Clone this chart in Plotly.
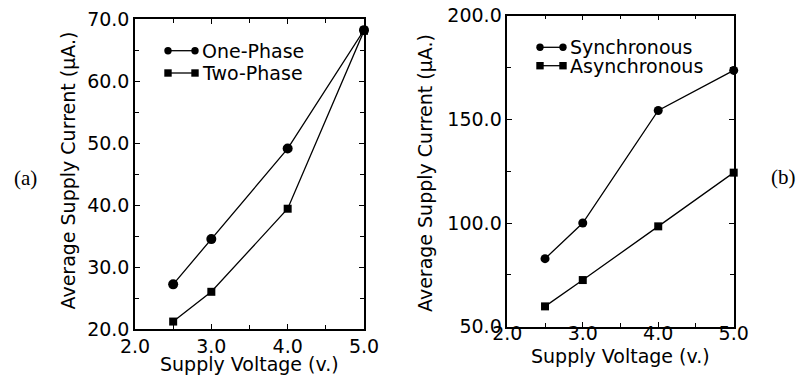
import plotly.graph_objects as go

# ---- data ----
voltage = [2.5, 3.0, 4.0, 5.0]
one_phase = [27.2, 34.5, 49.1, 68.2]
two_phase = [21.2, 26.0, 39.4, 68.1]
synchronous = [82.8, 100.0, 154.3, 173.6]
asynchronous = [59.8, 72.5, 98.4, 124.3]

x_ticks = [2.0, 3.0, 4.0, 5.0]
y_ticks_a = [20.0, 30.0, 40.0, 50.0, 60.0, 70.0]
y_ticks_b = [50.0, 100.0, 150.0, 200.0]

W, H = 799, 379
FONT = "DejaVu Sans"
FS = 19


def px(x):
    return x / W


def py(y):
    return 1 - y / H


fig = go.Figure()

series = [
    (voltage, one_phase, "circle", 10, "x", "y", "One-Phase"),
    (voltage, two_phase, "square", 8, "x", "y", "Two-Phase"),
    (voltage, synchronous, "circle", 9, "x2", "y2", "Synchronous"),
    (voltage, asynchronous, "square", 8, "x2", "y2", "Asynchronous"),
]
for xs, ys, sym, sz, xa, ya, name in series:
    fig.add_trace(go.Scatter(
        x=xs, y=ys, mode="lines+markers", name=name,
        line=dict(color="black", width=1.3),
        marker=dict(symbol=sym, size=sz, color="black"),
        xaxis=xa, yaxis=ya, cliponaxis=False, showlegend=False,
    ))

axis_common = dict(
    showline=True, linecolor="black", linewidth=1.5, mirror="ticks",
    ticks="inside", ticklen=5, tickwidth=1.2, tickcolor="black",
    showgrid=False, zeroline=False, tickformat=".1f",
    tickfont=dict(family=FONT, size=FS, color="black"),
    automargin=False, fixedrange=True,
)

fig.update_layout(
    width=W, height=H,
    margin=dict(l=0, r=0, t=0, b=0),
    paper_bgcolor="white", plot_bgcolor="white",
    showlegend=False,
    xaxis=dict(domain=[px(135), px(364)], anchor="y", range=[2, 5],
               tickvals=x_ticks, ticklabelstandoff=-1,
               minor=dict(ticks="inside", ticklen=4, tickwidth=1.2, tickcolor="black", dtick=0.5, showgrid=False),
               **axis_common),
    yaxis=dict(domain=[py(329), py(19)], anchor="x", range=[20, 70],
               tickvals=y_ticks_a,
               minor=dict(ticks="inside", ticklen=4, tickwidth=1.2, tickcolor="black", dtick=5, showgrid=False),
               **axis_common),
    xaxis2=dict(domain=[px(507.3), px(733.7)], anchor="y2", range=[2, 5],
                tickvals=x_ticks, ticklabelstandoff=-11,
                minor=dict(ticks="inside", ticklen=4, tickwidth=1.2, tickcolor="black", dtick=0.5, showgrid=False),
                **axis_common),
    yaxis2=dict(domain=[py(326.7), py(15.7)], anchor="x2", range=[50, 200],
                tickvals=y_ticks_b,
                minor=dict(ticks="inside", ticklen=4, tickwidth=1.2, tickcolor="black", dtick=25, showgrid=False),
                **axis_common),
)

# axis titles and panel labels
ann = [
    dict(text="Average Supply Current (µA.)", x=px(67), y=py(170.5), textangle=-90),
    dict(text="Average Supply Current (µA.)", x=px(425), y=py(173), textangle=-90),
    dict(text="Supply Voltage (v.)", x=px(249), y=py(364)),
    dict(text="Supply Voltage (v.)", x=px(620.8), y=py(356)),
]
for a in ann:
    fig.add_annotation(xref="paper", yref="paper", showarrow=False,
                       xanchor="center", yanchor="middle",
                       font=dict(family=FONT, size=FS, color="black"), **a)

for txt, x, y in [("(a)", 25, 178), ("(b)", 783, 177)]:
    fig.add_annotation(text=txt, xref="paper", yref="paper", x=px(x), y=py(y),
                       showarrow=False, xanchor="center", yanchor="middle",
                       font=dict(family="Liberation Serif", size=21, color="black"))

# custom legends (marker-line-marker samples)
legend_items = [
    ("One-Phase", "circle", 168, 195, 50.7, 200),
    ("Two-Phase", "square", 168, 195, 73.0, 200),
    ("Synchronous", "circle", 540, 563, 47.3, 568),
    ("Asynchronous", "square", 540, 563, 65.7, 568),
]
for name, sym, x0, x1, yy, tx in legend_items:
    fig.add_shape(type="line", xref="paper", yref="paper",
                  x0=px(x0), x1=px(x1), y0=py(yy), y1=py(yy),
                  line=dict(color="black", width=1.3))
    r = 3.7
    for cx in (x0, x1):
        fig.add_shape(type="circle" if sym == "circle" else "rect",
                      xref="paper", yref="paper",
                      x0=px(cx - r), x1=px(cx + r), y0=py(yy + r), y1=py(yy - r),
                      fillcolor="black", line=dict(color="black", width=0))
    fig.add_annotation(text=name, xref="paper", yref="paper", x=px(tx), y=py(yy),
                       showarrow=False, xanchor="left", yanchor="middle",
                       font=dict(family=FONT, size=FS, color="black"))

fig.write_html("out.html")
